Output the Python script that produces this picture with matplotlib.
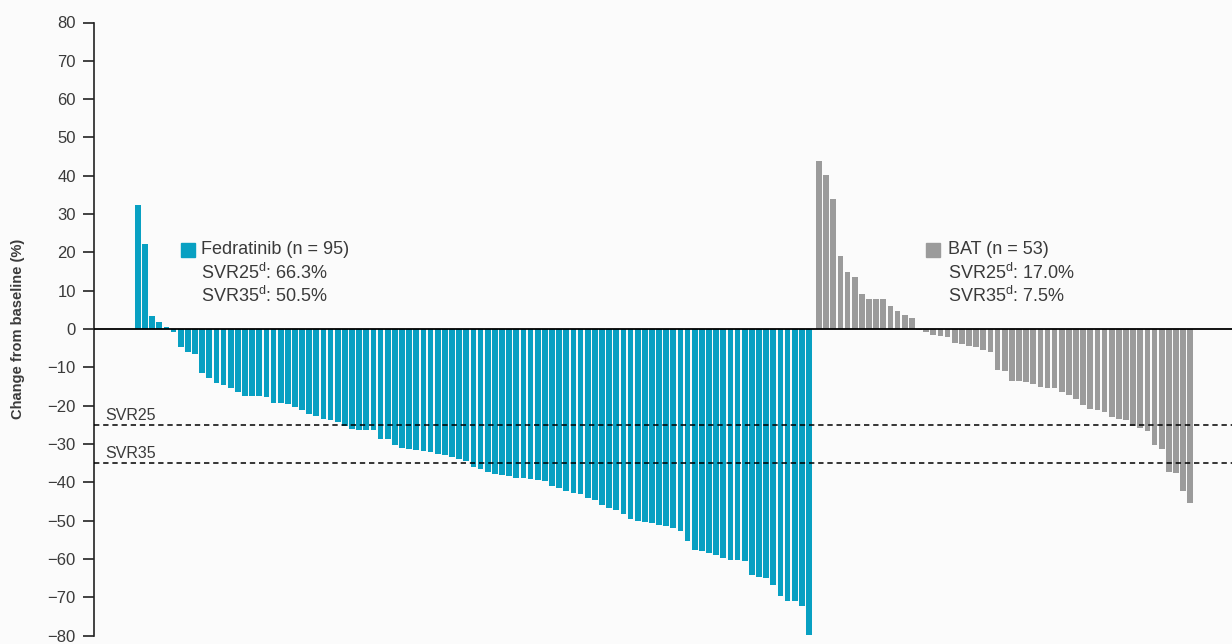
import numpy as np
import matplotlib
matplotlib.use("Agg")
import matplotlib.pyplot as plt
from matplotlib.patches import Rectangle

plt.rcParams['font.family'] = ['Liberation Sans', 'DejaVu Sans']
plt.rcParams['mathtext.fontset'] = 'custom'
plt.rcParams['mathtext.rm'] = 'Liberation Sans'

# waterfall values (% change from baseline), sorted as in the source
fedratinib = [32.4, 22.2, 3.4, 1.9, 0.5, -0.7, -4.6, -6.1, -6.4, -11.5,
              -12.7, -14.0, -14.7, -15.3, -16.4, -17.5, -17.6, -17.6, -17.7, -19.3,
              -19.3, -19.5, -20.4, -21.1, -22.3, -22.6, -23.4, -23.7, -24.3, -25.2,
              -26.2, -26.3, -26.3, -26.3, -28.7, -28.7, -30.4, -31.0, -31.2, -31.5,
              -31.8, -32.2, -32.6, -32.8, -33.5, -33.9, -34.4, -36.1, -36.6, -37.4,
              -37.9, -38.1, -38.3, -38.8, -38.9, -39.2, -39.4, -39.6, -40.9, -41.5,
              -42.3, -42.7, -43.1, -44.0, -44.7, -45.9, -46.6, -47.3, -48.2, -49.7,
              -50.1, -50.4, -50.7, -51.2, -51.4, -51.9, -52.8, -55.4, -57.6, -58.0,
              -58.4, -58.9, -59.8, -60.2, -60.4, -60.6, -64.3, -64.8, -65.0, -66.8,
              -69.6, -70.9, -70.9, -72.4, -79.9]
bat = [43.9, 40.2, 33.9, 19.0, 15.0, 13.6, 9.2, 7.9, 7.9, 7.9,
       6.0, 4.8, 3.7, 2.8, -0.3, -0.7, -1.6, -1.8, -2.0, -3.6,
       -3.8, -4.5, -4.8, -5.5, -6.0, -10.6, -11.0, -13.6, -13.7, -13.9,
       -14.3, -15.1, -15.3, -15.3, -16.4, -17.3, -18.2, -19.9, -20.8, -21.1,
       -21.7, -23.0, -23.4, -23.7, -25.2, -25.8, -26.5, -30.4, -31.3, -37.4,
       -37.7, -42.4, -45.3]

fed_label = ["Fedratinib (n = 95)", r"SVR25$^{\mathregular{d}}$: 66.3%", r"SVR35$^{\mathregular{d}}$: 50.5%"]
bat_label = ["BAT (n = 53)", r"SVR25$^{\mathregular{d}}$: 17.0%", r"SVR35$^{\mathregular{d}}$: 7.5%"]
thresholds = [-25, -35]
threshold_names = ["SVR25", "SVR35"]
yticks = list(range(-80, 90, 10))

TEAL = '#08a0c2'
GRAY = '#9b9b9b'
TEXT = '#3a3a3a'
W, H = 1232, 644

fig = plt.figure(figsize=(W / 100, H / 100), dpi=100, facecolor='#fbfbfb')
ax = fig.add_axes([94 / W, 1 - 635.5 / H, 1 - 94 / W, (635.5 - 22.5) / H])
ax.set_facecolor('#fbfbfb')

x_fed = np.arange(len(fedratinib))
x_bat = len(fedratinib) + 0.4 + np.arange(len(bat))
ax.bar(x_fed, fedratinib, width=0.8, color=TEAL, linewidth=0, zorder=2)
ax.bar(x_bat, bat, width=0.8, color=GRAY, linewidth=0, zorder=2)

ax.axhline(0, color='black', lw=1.3, zorder=3)
for t in thresholds:
    ax.axhline(t, color='black', lw=1.1, ls=(0, (3.5, 2.5)), zorder=3)

ax.set_xlim(-6.14, 153.24)
ax.set_ylim(-80, 80)
ax.set_yticks(yticks)
ax.set_xticks([])
for s in ['top', 'right', 'bottom']:
    ax.spines[s].set_visible(False)
ax.spines['left'].set_linewidth(1.2)
ax.spines['left'].set_color('#222222')
ax.tick_params(axis='y', direction='out', length=8, width=1.2, color='#222222',
               labelsize=12, labelcolor=TEXT, pad=5)

fig.text(18 / W, 1 - 329 / H, "Change from baseline (%)", rotation=90,
         fontweight='bold', fontsize=10.5, color=TEXT, ha='center', va='center')

# threshold labels
fig.text(105 / W, 1 - 416 / H, threshold_names[0], fontsize=11.5, color=TEXT, va='center')
fig.text(105 / W, 1 - 453 / H, threshold_names[1], fontsize=11.5, color=TEXT, va='center')

# group legends
for (sx, tx, color, lines) in [(181, 201, TEAL, fed_label), (926, 948, GRAY, bat_label)]:
    fig.add_artist(Rectangle((sx / W, 1 - 257 / H), 14 / W, 14 / H,
                             transform=fig.transFigure, color=color))
    for k, line in enumerate(lines):
        fig.text(tx / W, 1 - (250 + 23 * k) / H, line, fontsize=13,
                 color=TEXT, va='center')

fig.savefig("out.png", dpi=100, facecolor=fig.get_facecolor())
